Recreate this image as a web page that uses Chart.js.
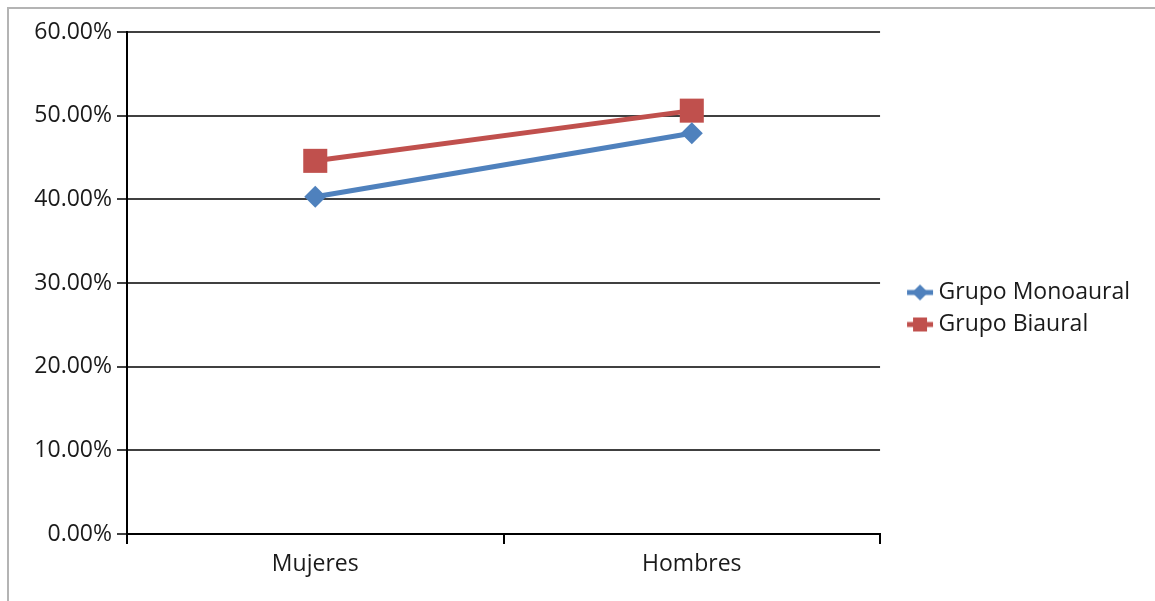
<!DOCTYPE html>
<html>
<head>
<meta charset="utf-8">
<script src="https://cdn.jsdelivr.net/npm/chart.js@4.4.0/dist/chart.umd.min.js"></script>
<style>
  html, body { margin: 0; padding: 0; background: #fff; overflow: hidden; }
  #frame { position: absolute; left: 7px; top: 7px; width: 1200px; height: 700px;
           border-top: 2px solid #b4b4b4; border-left: 2px solid #b4b4b4; }
  #chart { position: absolute; left: 0; top: 0; }
</style>
</head>
<body>
<div id="frame"></div>
<canvas id="chart" width="1155" height="601"></canvas>
<script>
// chart data
const categories = ['Mujeres', 'Hombres'];
const seriesNames = ['Grupo Monoaural', 'Grupo Biaural'];
const monoaural = [40.3, 47.9];
const biaural = [44.6, 50.6];
const yTicks = [0, 10, 20, 30, 40, 50, 60];

const BLUE = '#4f81bd';
const RED = '#c0504d';
const FONT = '"Open Sans", sans-serif';

// legend icon: short line with the series marker on it
function makeIcon(color, shape) {
    const c = document.createElement('canvas');
    c.width = 52;
    c.height = 24;
    const ctx = c.getContext('2d');
    ctx.strokeStyle = color;
    ctx.fillStyle = color;
    ctx.lineWidth = 5;
    ctx.beginPath();
    ctx.moveTo(25, 12);
    ctx.lineTo(51, 12);
    ctx.stroke();
    ctx.beginPath();
    if (shape === 'diamond') {
        ctx.moveTo(38, 4);
        ctx.lineTo(46, 12);
        ctx.lineTo(38, 20);
        ctx.lineTo(30, 12);
        ctx.closePath();
    } else {
        ctx.rect(31, 5, 14, 14);
    }
    ctx.fill();
    return c;
}

const icons = [makeIcon(BLUE, 'diamond'), makeIcon(RED, 'square')];

new Chart(document.getElementById('chart'), {
    type: 'line',
    data: {
        labels: categories,
        datasets: [{
            label: seriesNames[0],
            data: monoaural,
            borderColor: BLUE,
            backgroundColor: BLUE,
            borderWidth: 5,
            pointStyle: 'rectRot',
            pointRadius: 11,
            pointHoverRadius: 11,
            pointBorderWidth: 0,
            tension: 0
        }, {
            label: seriesNames[1],
            data: biaural,
            borderColor: RED,
            backgroundColor: RED,
            borderWidth: 5,
            pointStyle: 'rect',
            pointRadius: 17,
            pointHoverRadius: 17,
            pointBorderWidth: 0,
            tension: 0
        }]
    },
    options: {
        responsive: false,
        animation: false,
        devicePixelRatio: 1,
        layout: { padding: { top: 32, right: 15, bottom: 16, left: 0 } },
        plugins: {
            tooltip: { enabled: false },
            legend: {
                position: 'right',
                labels: {
                    usePointStyle: true,
                    pointStyleWidth: 38,
                    padding: 9,
                    color: '#1a1a1a',
                    font: { family: FONT, size: 23, lineHeight: 1.05 },
                    generateLabels: function (chart) {
                        const items = Chart.defaults.plugins.legend.labels.generateLabels(chart);
                        items.forEach(function (item, i) { item.pointStyle = icons[i]; });
                        return items;
                    }
                }
            }
        },
        scales: {
            x: {
                offset: true,
                afterFit: function (scale) { scale.height = 51; },
                grid: {
                    offset: true,
                    drawOnChartArea: false,
                    drawTicks: true,
                    tickLength: 10,
                    color: '#000',
                    lineWidth: 2
                },
                border: { color: '#000', width: 2 },
                ticks: {
                    padding: 7,
                    color: '#1a1a1a',
                    font: { family: FONT, size: 23 }
                }
            },
            y: {
                min: 0,
                max: 60,
                afterFit: function (scale) { scale.width = 127; },
                afterBuildTicks: function (scale) {
                    scale.ticks = yTicks.map(function (v) { return { value: v }; });
                },
                grid: {
                    color: '#404040',
                    lineWidth: 2,
                    tickLength: 10
                },
                border: { color: '#000', width: 2 },
                ticks: {
                    padding: 5,
                    color: '#1a1a1a',
                    font: { family: FONT, size: 23 },
                    callback: function (v) { return v.toFixed(2) + '%'; }
                }
            }
        }
    }
});
</script>
</body>
</html>
